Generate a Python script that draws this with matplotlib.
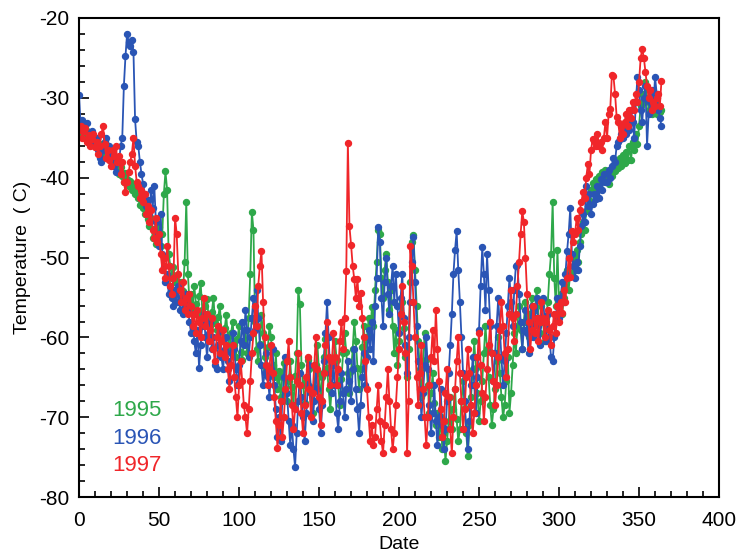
import numpy as np
import matplotlib.pyplot as plt
from matplotlib.ticker import MultipleLocator

plt.rcParams["font.family"] = ["Liberation Sans", "DejaVu Sans"]
plt.rcParams["axes.unicode_minus"] = False

# daily temperatures (C), day 0..364
t1995 = [
    -34.0, -34.5, -33.8, -34.6, -35.0, -34.2, -35.3, -35.8, -34.9, -35.5,
    -36.0, -35.2, -36.4, -35.8, -37.0, -36.2, -35.5, -36.8, -37.5, -36.6,
    -37.8, -37.0, -38.3, -37.5, -38.8, -39.5, -38.6, -39.8, -40.5, -39.4,
    -40.2, -41.0, -40.4, -41.5, -40.8, -42.0, -41.3, -42.5, -43.4, -42.6,
    -43.8, -44.5, -43.6, -45.2, -46.0, -45.1, -47.5, -46.4, -48.3, -47.0,
    -46.2, -48.5, -47.0, -42.0, -39.2, -41.5, -49.5, -51.0, -52.5, -51.2,
    -53.0, -52.2, -54.0, -53.1, -55.0, -54.2, -50.5, -43.0, -52.0, -55.5,
    -54.6, -56.2, -53.5, -55.8, -57.0, -54.8, -53.2, -56.5, -57.8, -56.0,
    -55.2, -57.6, -58.5, -56.8, -55.0, -58.2, -59.0, -57.4, -56.0, -59.2,
    -60.5, -58.8, -57.2, -60.0, -61.5, -59.5, -58.0, -61.0, -62.5, -60.2,
    -58.5, -61.8, -62.8, -60.5, -59.0, -62.0, -57.5, -52.0, -44.3, -46.5,
    -58.0, -61.5, -63.0, -60.8, -57.2, -59.5, -62.5, -64.0, -61.2, -58.5,
    -60.0, -63.5, -65.0, -62.0, -66.5, -64.2, -67.5, -65.0, -63.2, -66.8,
    -68.0, -65.5, -63.0, -66.2, -68.5, -64.8, -62.0, -54.0, -55.8, -63.5,
    -66.0, -68.2, -65.5, -62.8, -64.0, -67.0, -69.5, -66.2, -63.5, -61.0,
    -64.5, -67.8, -65.0, -62.5, -60.2, -63.8, -66.5, -69.0, -66.0, -63.2,
    -60.5, -62.8, -66.0, -68.5, -65.2, -62.0, -59.5, -61.8, -64.5, -67.0,
    -64.2, -61.5, -58.0, -60.5, -63.8, -66.5, -64.0, -61.2, -58.5, -62.0,
    -60.0, -57.5, -59.8, -56.2, -58.5, -54.0, -50.5, -46.5, -47.0, -52.5,
    -55.0, -51.5, -49.5, -53.0, -56.5, -54.0, -58.5, -62.0, -59.0, -63.5,
    -60.5, -57.0, -55.5, -58.8, -62.5, -65.0, -61.5, -53.0, -48.0, -47.2,
    -51.5, -56.0, -60.5, -64.0, -67.5, -63.0, -59.5, -62.8, -66.0, -69.5,
    -67.0, -64.5, -68.2, -71.0, -69.5, -72.5, -70.0, -74.0, -72.0, -75.5,
    -73.0, -70.5, -67.5, -71.5, -69.0, -66.5, -70.2, -73.0, -71.5, -68.0,
    -65.5, -68.8, -72.0, -74.8, -71.0, -67.5, -64.0, -60.5, -63.8, -67.0,
    -70.5, -68.0, -65.5, -62.0, -58.5, -61.5, -65.0, -68.5, -71.0, -69.0,
    -66.5, -63.0, -60.0, -64.5, -67.5, -70.0, -68.5, -65.5, -62.5, -69.4,
    -67.0, -63.5, -59.5, -62.0, -58.5, -56.0, -59.0, -61.5, -58.0, -55.5,
    -57.5, -60.0, -57.0, -55.0, -58.0, -56.5, -54.0, -57.5, -59.5, -56.0,
    -58.0, -60.5, -57.5, -55.5, -52.0, -49.5, -43.0, -52.5, -56.0, -49.0,
    -56.0, -54.5, -57.0, -55.0, -53.5, -51.5, -54.0, -52.0, -51.9, -50.0,
    -51.5, -49.0, -50.5, -48.0, -47.0, -45.5, -46.5, -44.2, -43.5, -42.8,
    -41.5, -40.6, -41.8, -40.2, -41.0, -39.8, -40.5, -39.3, -40.0, -39.0,
    -40.0, -40.8, -39.5, -39.8, -38.8, -39.2, -38.0, -38.8, -37.5, -38.5,
    -37.2, -38.2, -36.8, -37.8, -36.0, -37.8, -35.5, -36.5, -34.5, -35.8,
    -33.5, -31.0, -29.5, -30.5, -28.0, -30.0, -31.5, -30.0, -32.0, -31.0,
    -30.5, -32.0, -31.0, -31.8, -31.5,
]

t1996 = [
    -29.7, -33.5, -32.8, -33.5, -34.0, -33.2, -34.5, -35.0, -34.2, -35.5,
    -36.0, -35.0, -36.5, -37.5, -38.0, -36.5, -35.5, -35.0, -36.8, -36.0,
    -37.0, -36.5, -38.5, -39.3, -37.5, -38.0, -36.0, -35.0, -28.5, -24.8,
    -22.0, -23.0, -23.5, -22.8, -24.3, -32.7, -35.5, -36.0, -38.0, -39.5,
    -40.8, -42.0, -43.5, -42.8, -44.5, -41.5, -43.8, -41.0, -45.5, -47.0,
    -48.5, -44.5, -49.5, -51.0, -53.0, -52.0, -54.5, -53.5, -55.0, -56.0,
    -54.0, -55.5, -53.5, -56.5, -55.0, -57.0, -55.8, -54.5, -56.5, -58.0,
    -59.5, -57.0, -60.5, -62.0, -59.0, -63.8, -61.0, -58.5, -57.0, -60.0,
    -62.5, -59.5, -58.0, -61.5, -60.0, -63.5, -64.0, -61.0, -59.0, -62.5,
    -64.0, -61.5, -60.0, -63.0, -65.5, -62.0, -59.5, -61.5, -64.0, -66.0,
    -63.5, -60.5, -58.0, -61.0, -56.5, -59.0, -62.5, -60.0, -57.5, -55.0,
    -59.0, -54.0, -57.5, -61.0, -63.5, -66.0, -64.5, -62.0, -65.0, -67.5,
    -64.0, -61.5, -66.0, -69.0, -72.5, -70.0, -73.0, -68.0, -65.0, -62.5,
    -67.0, -70.5, -73.5, -71.0, -74.0, -76.2, -72.0, -68.0, -64.5, -67.5,
    -70.0, -73.0, -69.5, -66.0, -63.5, -67.0, -70.5, -68.0, -64.0, -66.5,
    -69.0, -72.0, -68.5, -63.0, -59.5, -55.6, -60.0, -64.5, -67.0, -63.5,
    -66.0, -69.5, -71.5, -68.0, -64.5, -67.0, -70.0, -66.5, -63.0, -65.5,
    -68.0, -64.0, -61.5, -66.5, -69.0, -72.0, -68.5, -65.0, -62.0, -66.0,
    -62.5, -59.0, -61.5, -58.0, -63.0, -56.0, -52.5, -46.2, -48.0, -55.0,
    -58.5, -53.0, -50.0, -54.5, -57.0, -53.5, -51.0, -55.5, -52.0, -56.0,
    -59.5, -55.0, -52.0, -57.5, -61.0, -64.5, -60.0, -55.5, -50.5, -47.4,
    -53.0, -58.5, -63.0, -66.5, -70.0, -67.0, -63.5, -60.0, -64.0, -68.5,
    -72.0, -69.5, -66.0, -70.5, -73.5, -70.0, -66.5, -71.0, -74.0, -71.5,
    -68.0, -64.5, -61.0, -57.0, -52.0, -49.0, -46.7, -51.5, -55.5, -60.0,
    -64.5, -68.0, -71.5, -74.0, -70.5, -66.0, -62.5, -66.0, -69.5, -65.0,
    -59.0, -53.5, -48.7, -52.0, -56.5, -49.6, -54.0, -58.5, -62.0, -65.5,
    -62.0, -58.5, -55.0, -59.0, -62.5, -66.0, -63.0, -59.5, -56.0, -52.5,
    -55.5, -58.5, -54.0, -51.0, -50.9, -54.5, -58.0, -61.5, -59.0, -56.5,
    -59.5, -62.0, -58.5, -56.0, -60.0, -57.5, -55.0, -58.5, -61.0, -57.5,
    -55.0, -58.0, -60.5, -57.0, -60.0, -62.5, -63.0, -60.0, -57.5, -55.0,
    -57.5, -55.0, -53.0, -55.5, -52.0, -49.2, -47.0, -43.8, -49.5, -51.0,
    -52.5, -50.6, -51.5, -48.5, -46.0, -44.5, -45.5, -41.0, -43.5, -42.0,
    -44.5, -43.3, -42.0, -42.7, -41.0, -42.5, -40.2, -41.5, -39.5, -40.5,
    -40.5, -39.0, -40.0, -38.5, -37.5, -38.0, -36.0, -35.5, -35.2, -34.5,
    -35.0, -33.5, -34.5, -32.5, -34.0, -31.5, -33.0, -35.0, -30.5, -27.4,
    -29.0, -31.5, -33.0, -30.0, -28.5, -36.0, -32.0, -30.5, -29.0, -31.0,
    -27.4, -29.5, -31.5, -32.5, -33.5,
]

t1997 = [
    -34.0, -33.5, -35.0, -34.2, -33.8, -35.5, -34.6, -36.0, -35.2, -34.5,
    -36.2, -35.5, -37.0, -36.0, -34.5, -33.5, -35.8, -37.5, -36.5, -37.8,
    -38.5, -36.5, -37.3, -36.0, -38.0, -37.3, -39.5, -38.0, -40.5, -41.8,
    -40.5, -39.3, -38.0, -37.0, -35.0, -38.5, -40.5, -41.0, -42.5, -41.5,
    -43.0, -42.0, -44.5, -43.5, -45.5, -44.0, -46.5, -47.5, -45.0, -48.0,
    -47.0, -49.5, -51.5, -50.0, -52.5, -48.5, -51.0, -53.5, -54.5, -52.5,
    -45.0, -47.0, -52.0, -54.0, -55.5, -53.0, -56.5, -55.0, -57.0, -54.5,
    -56.0, -58.5, -57.0, -59.5, -56.5, -58.0, -60.0, -57.5, -55.0, -58.5,
    -57.0, -60.5, -59.0, -57.5, -61.5, -63.0, -60.0, -58.5, -62.0, -60.5,
    -59.0, -62.5, -61.0, -64.0, -66.5, -63.5, -61.0, -65.0, -67.5, -70.0,
    -66.0, -63.0, -65.5, -68.5, -70.0, -72.0, -69.0, -65.5, -62.0, -59.5,
    -56.0, -58.5, -53.5, -51.0, -49.2, -55.5, -60.0, -63.5, -66.0, -64.0,
    -61.0, -64.5, -67.5, -70.5, -73.8, -71.0, -68.0, -72.5, -70.0, -66.5,
    -63.0, -60.5, -65.0, -68.5, -71.5, -69.0, -65.5, -62.0, -66.0, -69.5,
    -72.0, -68.5, -65.0, -62.5, -66.5, -70.0, -67.0, -63.5, -60.0, -64.0,
    -67.5, -71.0, -68.0, -64.5, -61.0, -58.0, -62.5, -66.0, -63.0, -59.5,
    -62.5, -66.0, -64.0, -60.5, -58.0, -61.5, -57.5, -51.7, -35.6, -46.1,
    -48.4, -51.0, -52.7, -55.0, -52.7, -56.0, -54.4, -57.5, -60.0, -63.0,
    -66.5, -70.0, -73.0, -71.0, -73.5, -72.5, -69.0, -66.0, -70.5, -73.0,
    -74.5, -71.0, -67.5, -64.0, -68.0, -71.5, -74.0, -72.0, -68.5, -65.0,
    -61.5, -57.0, -53.5, -58.0, -62.0, -74.5, -68.0, -48.6, -51.0, -55.5,
    -60.0, -65.0, -68.5, -64.5, -61.0, -66.5, -70.0, -73.5, -70.0, -66.0,
    -62.5, -59.0, -63.0, -56.5, -61.5, -65.5, -69.0, -72.5, -70.5, -67.0,
    -64.0, -67.5, -71.5, -74.5, -70.0, -66.5, -63.0, -60.0, -64.5, -68.0,
    -71.5, -69.0, -65.0, -61.5, -64.5, -68.5, -72.0, -69.5, -66.0, -62.5,
    -59.5, -63.5, -67.0, -70.5, -67.5, -64.0, -61.0, -58.0, -62.0, -65.5,
    -68.5, -66.0, -62.5, -59.0, -55.5, -58.5, -62.0, -65.0, -61.5, -57.0,
    -54.0, -57.5, -60.5, -57.0, -53.5, -50.5, -47.0, -44.2, -45.5, -50.0,
    -54.5, -58.0, -61.5, -59.0, -56.0, -59.5, -57.5, -60.5, -58.0, -55.5,
    -57.5, -60.0, -58.0, -56.5, -59.0, -61.0, -58.5, -57.0, -59.5, -56.0,
    -58.0, -55.5, -56.9, -54.0, -55.5, -52.5, -50.0, -52.4, -46.7, -48.0,
    -47.0, -45.0, -46.5, -44.0, -43.0, -41.8, -42.5, -40.0, -38.3, -39.5,
    -36.5, -35.2, -35.4, -36.0, -34.5, -36.0, -35.5, -36.5, -35.0, -33.0,
    -35.0, -32.0, -31.4, -27.2, -27.3, -29.5, -32.4, -33.0, -35.0, -33.5,
    -34.5, -33.0, -32.0, -33.5, -31.5, -32.5, -30.5, -31.5, -29.5, -30.5,
    -28.0, -25.0, -23.9, -25.0, -26.8, -28.5, -30.0, -29.0, -31.5, -30.5,
    -31.0, -30.0, -29.5, -31.0, -27.9,
]

years = ['1995', '1996', '1997']
colors = {'1995': '#2ea84a', '1996': '#2a55b5', '1997': '#f0262a'}
series = {'1995': t1995, '1996': t1996, '1997': t1997}

fig = plt.figure(figsize=(7.39, 5.6), dpi=100)
ax = fig.add_axes([0.107, 0.112, 0.866, 0.856])

for yr in years:
    vals = series[yr]
    days = np.arange(len(vals))
    ax.plot(days, vals, '-o', color=colors[yr], linewidth=1.3, markersize=4.3)

ax.set_xlim(0, 400)
ax.set_ylim(-80, -20)
ax.xaxis.set_major_locator(MultipleLocator(50))
ax.xaxis.set_minor_locator(MultipleLocator(10))
ax.yaxis.set_major_locator(MultipleLocator(10))
ax.yaxis.set_minor_locator(MultipleLocator(2))
ax.tick_params(which='both', direction='in', top=False, right=False, labelsize=15, width=1.2)
ax.tick_params(which='major', length=7)
ax.tick_params(which='minor', length=4)
ax.tick_params(axis='x', pad=10)
ax.tick_params(axis='y', pad=7)

for s in ax.spines.values():
    s.set_linewidth(1.5)

ax.set_xlabel('Date', fontsize=14, labelpad=4)
ax.set_ylabel('Temperature  ( C)', fontsize=14, labelpad=6)

# year labels in place of a legend
for i, yr in enumerate(years):
    ax.text(21, -69.2 - 3.4 * i, yr, color=colors[yr], fontsize=16, va='center', ha='left')

plt.savefig('out.png', dpi=100)
